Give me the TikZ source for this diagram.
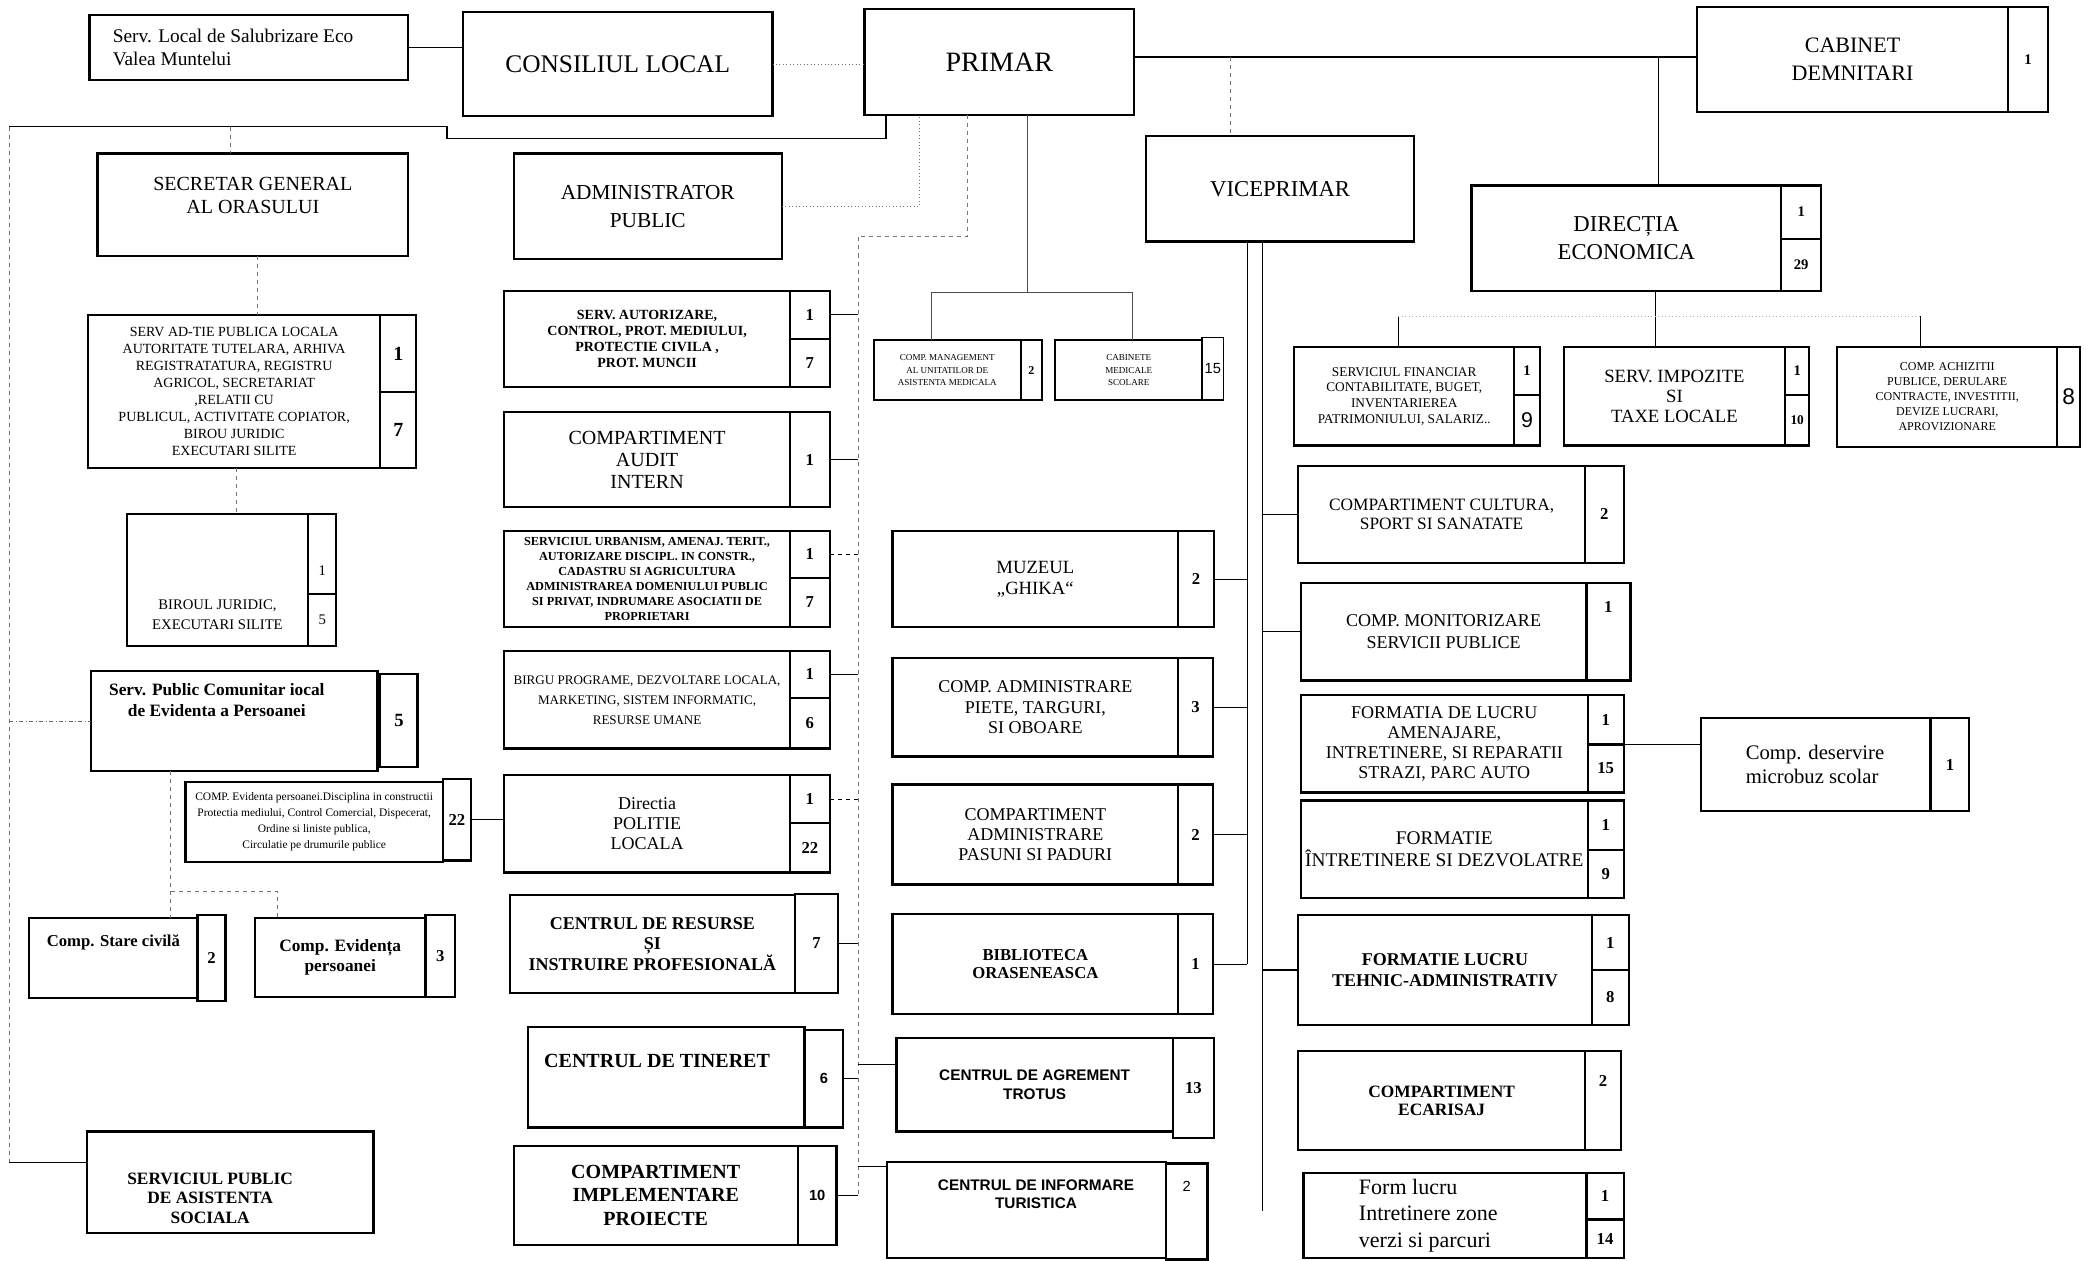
\documentclass[tikz,border=0pt]{standalone}
\usepackage{fontspec}
\setmainfont{Liberation Serif}
\newfontfamily\arialf{Liberation Sans}
\usetikzlibrary{positioning, calc}
\newcommand{\fsz}[2]{\fontsize{#1}{#2}\selectfont}
\tikzset{
  box/.style={draw, line width=1.7pt, anchor=north west, inner sep=1pt, outer sep=0pt, align=center},
  cnt/.style={draw, line width=1.7pt, anchor=north west, inner sep=0pt, outer sep=0pt, font=\bfseries\fsz{12.5}{14}},
  sz/.style 2 args={minimum width=#1pt, minimum height=#2pt},
  link/.style={line width=0.8pt},
  faint/.style={dashed, line width=0.5pt, black!55},
  dots/.style={dotted, line width=0.6pt, black!55}
}
\begin{document}
\begin{tikzpicture}[x=1pt, y=-1pt]
\fill[white] (0,0) rectangle (1568,945);
\useasboundingbox (0,0) rectangle (1568,945);

% top row
\node[box, sz={239}{49}] (salub) at (67,11) {};
\node[anchor=west, align=left, font=\fsz{14.5}{17}] (salub-t) at ([xshift=14pt]salub.west) {Serv. Local de Salubrizare Eco\\Valea Muntelui};
\node[box, sz={232}{78}, font=\fsz{19}{22}] (consiliu) at (347,9) {CONSILIUL LOCAL};
\node[box, sz={202}{79}, font=\fsz{21}{24}] (primar) at (648,7) {PRIMAR};
\node[box, sz={233}{79}, font=\fsz{16.5}{21}] (cabinet) at (1272,5) {CABINET\\DEMNITARI};
\node[cnt, sz={30}{79}, font=\bfseries\fsz{11}{13}] (cabinet-a) at (cabinet.north east) {1};

\node[box, sz={233}{77}] (secretar) at (73,115) {};
\node[font=\fsz{15}{17}, align=center] (secretar-t) at ([yshift=7pt]secretar.center) {SECRETAR GENERAL\\AL ORASULUI};
\node[box, sz={201}{79}, font=\fsz{16}{21}] (admin) at (385,115) {ADMINISTRATOR\\PUBLIC};
\node[box, sz={201}{79}, font=\fsz{17}{20}] (vice) at (859,102) {VICEPRIMAR};
\node[box, sz={232}{79}, font=\fsz{17}{21}] (directia) at (1103,139) {DIRECȚIA\\ECONOMICA};
\node[cnt, sz={30}{40}, font=\bfseries\fsz{11}{13}] (directia-a) at (directia.north east) {1};
\node[cnt, sz={30}{39}, font=\bfseries\fsz{11}{13}] (directia-b) at (directia-a.south west) {29};

% left column
\node[box, sz={219}{115}, font=\fsz{10.5}{12.7}] (adtie) at (66,236) {SERV AD-TIE PUBLICA LOCALA\\AUTORITATE TUTELARA, ARHIVA\\REGISTRATATURA, REGISTRU\\AGRICOL, SECRETARIAT\\,RELATII CU\\PUBLICUL, ACTIVITATE COPIATOR,\\BIROU JURIDIC\\EXECUTARI SILITE};
\node[cnt, sz={27}{58}, font=\bfseries\fsz{15}{17}] (adtie-a) at (adtie.north east) {1};
\node[cnt, sz={27}{57}, font=\bfseries\fsz{15}{17}] (adtie-b) at (adtie-a.south west) {7};
\node[box, sz={136}{99}] (birou) at (95,385) {};
\node[font=\fsz{11}{15}, align=center] (birou-t) at ([yshift=-26pt]birou.center) {BIROUL JURIDIC,\\EXECUTARI SILITE};
\node[cnt, sz={21}{60}, font=\fsz{11}{13}, text height=32pt] (birou-a) at (birou.north east) {1};
\node[cnt, sz={21}{39}, font=\fsz{11}{13}] (birou-b) at (birou-a.south west) {5};
\node[box, sz={215}{75}] (spc) at (68,503) {};
\node[font=\bfseries\fsz{13}{16}, align=center] (spc-t) at ([xshift=-13pt, yshift=16pt]spc.center) {Serv. Public Comunitar iocal\\de Evidenta a Persoanei};
\node[cnt, sz={28}{70}, font=\bfseries\fsz{14}{16}] (spc-a) at ([xshift=2pt, yshift=-2pt]spc.north east) {5};
\node[box, sz={193}{60}, font=\fsz{8.6}{12}] (compevid) at (139,586) {COMP. Evidenta persoanei.Disciplina in constructii\\Protectia mediului, Control Comercial, Dispecerat,\\Ordine si liniste publica,\\Circulatie pe drumurile publice};
\node[cnt, sz={21}{61}] (compevid-a) at ([yshift=2pt]compevid.north east) {22};
\node[box, sz={126}{60}] (stare) at (22,688) {};
\node[font=\bfseries\fsz{12.5}{15}] (stare-t) at ([yshift=12pt]stare.center) {Comp. Stare civilă};
\node[cnt, sz={21}{64}] (stare-a) at ([yshift=2pt]stare.north east) {2};
\node[box, sz={128}{59}, font=\bfseries\fsz{13}{15}] (evid) at (191,688) {Comp. Evidența\\persoanei};
\node[cnt, sz={22}{61}] (evid-a) at ([yshift=2pt]evid.north east) {3};
\node[box, sz={215}{76}] (asist) at (65,848) {};
\node[font=\bfseries\fsz{13}{14.5}, align=center] (asist-t) at ([xshift=-15pt, yshift=-12pt]asist.center) {SERVICIUL PUBLIC\\DE ASISTENTA\\SOCIALA};

% administrator column
\node[box, sz={214}{72}, font=\bfseries\fsz{10.5}{12}] (autoriz) at (378,218) {SERV. AUTORIZARE,\\CONTROL, PROT. MEDIULUI,\\PROTECTIE CIVILA ,\\PROT. MUNCII};
\node[cnt, sz={30}{36}] (autoriz-a) at (autoriz.north east) {1};
\node[cnt, sz={30}{36}] (autoriz-b) at (autoriz-a.south west) {7};
\node[box, sz={214}{71}, font=\fsz{15}{16.5}] (audit) at (378,309) {COMPARTIMENT\\AUDIT\\INTERN};
\node[cnt, sz={30}{71}] (audit-a) at (audit.north east) {1};
\node[box, sz={214}{72}, font=\bfseries\fsz{9.2}{11.3}] (urban) at (378,398) {SERVICIUL URBANISM, AMENAJ. TERIT.,\\AUTORIZARE DISCIPL. IN CONSTR.,\\CADASTRU SI AGRICULTURA\\ADMINISTRAREA DOMENIULUI PUBLIC\\SI PRIVAT, INDRUMARE ASOCIATII DE\\PROPRIETARI};
\node[cnt, sz={30}{35}] (urban-a) at (urban.north east) {1};
\node[cnt, sz={30}{37}] (urban-b) at (urban-a.south west) {7};
\node[box, sz={214}{73}, font=\fsz{9.8}{15}] (birgu) at (378,488) {BIRGU PROGRAME, DEZVOLTARE LOCALA,\\MARKETING, SISTEM INFORMATIC,\\RESURSE UMANE};
\node[cnt, sz={30}{35}] (birgu-a) at (birgu.north east) {1};
\node[cnt, sz={30}{38}] (birgu-b) at (birgu-a.south west) {6};
\node[box, sz={214}{73}, font=\fsz{13.5}{15}] (politie) at (378,581) {Directia\\POLITIE\\LOCALA};
\node[cnt, sz={30}{36}] (politie-a) at (politie.north east) {1};
\node[cnt, sz={30}{37}] (politie-b) at (politie-a.south west) {22};
\node[box, sz={214}{73}, font=\bfseries\fsz{13.5}{15.5}] (resurse) at (382,671) {CENTRUL DE RESURSE\\ȘI\\INSTRUIRE PROFESIONALĂ};
\node[cnt, sz={32}{74}] (resurse-a) at ([yshift=1pt]resurse.north east) {7};
\node[box, sz={207}{75}] (tineret) at (396,770) {};
\node[font=\bfseries\fsz{15}{17}] (tineret-t) at ([xshift=-7pt, yshift=12pt]tineret.center) {CENTRUL DE TINERET};
\node[cnt, sz={29}{73}, font=\arialf\bfseries\fsz{11}{13}] (tineret-a) at ([yshift=-2pt]tineret.north east) {6};
\node[box, sz={213}{74}, font=\bfseries\fsz{15}{17.5}] (implem) at (385,859) {COMPARTIMENT\\IMPLEMENTARE\\PROIECTE};
\node[cnt, sz={29}{74}, font=\arialf\bfseries\fsz{11}{13}] (implem-a) at (implem.north east) {10};

% middle column
\node[box, sz={110}{45}, line width=1.3pt, font=\fsz{6.8}{9.5}] (mgmt) at (655,255) {COMP. MANAGEMENT\\AL UNITATILOR DE\\ASISTENTA MEDICALA};
\node[cnt, sz={16}{45}, line width=1.3pt, font=\bfseries\fsz{9}{11}] (mgmt-a) at (mgmt.north east) {2};
\node[box, sz={110}{45}, line width=1.3pt, font=\fsz{6.8}{9.5}] (cabmed) at (791,255) {CABINETE\\MEDICALE\\SCOLARE};
\node[cnt, sz={16}{47}, line width=1.3pt, font=\arialf\fsz{11}{13}] (cabmed-a) at ([yshift=2pt]cabmed.north east) {15};
\node[box, sz={214}{72}, font=\fsz{14}{16}] (muzeu) at (669,398) {MUZEUL\\„GHIKA“};
\node[cnt, sz={27}{72}] (muzeu-a) at (muzeu.north east) {2};
\node[box, sz={214}{74}, font=\fsz{13.5}{15}] (piete) at (669,493) {COMP. ADMINISTRARE\\PIETE, TARGURI,\\SI OBOARE};
\node[cnt, sz={26}{74}] (piete-a) at (piete.north east) {3};
\node[box, sz={214}{75}, font=\fsz{13.5}{15}] (pasuni) at (669,588) {COMPARTIMENT\\ADMINISTRARE\\PASUNI SI PADURI};
\node[cnt, sz={26}{75}] (pasuni-a) at (pasuni.north east) {2};
\node[box, sz={214}{75}, font=\bfseries\fsz{12.5}{14}] (biblio) at (669,685) {BIBLIOTECA\\ORASENEASCA};
\node[cnt, sz={26}{75}] (biblio-a) at (biblio.north east) {1};
\node[box, sz={207}{70}, font=\arialf\bfseries\fsz{11.5}{14}] (agrement) at (672,778) {CENTRUL DE AGREMENT\\TROTUS};
\node[cnt, sz={31}{75}] (agrement-a) at (agrement.north east) {13};
\node[box, sz={209}{72}] (informare) at (665,871) {};
\node[font=\arialf\bfseries\fsz{11.5}{14}, align=center] (informare-t) at ([xshift=7pt, yshift=12pt]informare.center) {CENTRUL DE INFORMARE\\TURISTICA};
\node[cnt, sz={31}{72}, font=\arialf\fsz{11}{13}, text depth=38pt] (informare-a) at ([yshift=-1pt]informare.north east) {2};

% economic and right columns
\node[box, sz={165}{74}, font=\fsz{10}{11.8}] (financiar) at (970,260) {SERVICIUL FINANCIAR\\CONTABILITATE, BUGET,\\INVENTARIEREA\\PATRIMONIULUI, SALARIZ..};
\node[cnt, sz={19}{36}, font=\bfseries\fsz{11}{13}] (financiar-a) at (financiar.north east) {1};
\node[cnt, sz={19}{38}, font=\arialf\fsz{16}{18}] (financiar-b) at (financiar-a.south west) {9};
\node[box, sz={166}{74}, font=\fsz{14}{15}] (impozite) at (1172,260) {SERV. IMPOZITE\\SI\\TAXE LOCALE};
\node[cnt, sz={18}{36}, font=\bfseries\fsz{11}{13}] (impozite-a) at (impozite.north east) {1};
\node[cnt, sz={18}{38}, font=\bfseries\fsz{10}{12}] (impozite-b) at (impozite-a.south west) {10};
\node[box, sz={165}{75}, font=\fsz{9}{11.3}] (achiz) at (1377,260) {COMP. ACHIZITII\\PUBLICE, DERULARE\\CONTRACTE, INVESTITII,\\DEVIZE LUCRARI,\\APROVIZIONARE};
\node[cnt, sz={17}{75}, font=\arialf\fsz{17}{19}] (achiz-a) at (achiz.north east) {8};
\node[box, sz={215}{73}, font=\fsz{13}{14}] (cultura) at (973,349) {COMPARTIMENT CULTURA,\\SPORT SI SANATATE};
\node[cnt, sz={29}{73}] (cultura-a) at (cultura.north east) {2};
\node[box, sz={214}{73}, font=\fsz{13.5}{16}] (monit) at (975,437) {COMP. MONITORIZARE\\SERVICII PUBLICE};
\node[cnt, sz={33}{73}, text depth=37pt] (monit-a) at (monit.north east) {1};
\node[box, sz={215}{73}, font=\fsz{13.5}{15}] (formatia) at (975,521) {FORMATIA DE LUCRU\\AMENAJARE,\\INTRETINERE, SI REPARATII\\STRAZI, PARC AUTO};
\node[cnt, sz={27}{37}] (formatia-a) at (formatia.north east) {1};
\node[cnt, sz={27}{36}] (formatia-b) at (formatia-a.south west) {15};
\node[box, sz={172}{70}] (microbuz) at (1275,538) {};
\node[anchor=west, align=left, font=\fsz{15.5}{18}] (microbuz-t) at ([xshift=30pt]microbuz.west) {Comp. deservire\\microbuz scolar};
\node[cnt, sz={29}{70}] (microbuz-a) at (microbuz.north east) {1};
\node[box, sz={215}{73}, font=\fsz{14.5}{16}] (formint) at (975,600) {FORMATIE\\ÎNTRETINERE SI DEZVOLATRE};
\node[cnt, sz={27}{37}] (formint-a) at (formint.north east) {1};
\node[cnt, sz={27}{36}] (formint-b) at (formint-a.south west) {9};
\node[box, sz={220}{82}, font=\bfseries\fsz{13.5}{16}] (tehnic) at (973,686) {FORMATIE LUCRU\\TEHNIC-ADMINISTRATIV};
\node[cnt, sz={28}{41}] (tehnic-a) at (tehnic.north east) {1};
\node[cnt, sz={28}{41}] (tehnic-b) at (tehnic-a.south west) {8};
\node[box, sz={215}{74}, font=\bfseries\fsz{13}{14}] (ecaris) at (973,788) {COMPARTIMENT\\ECARISAJ};
\node[cnt, sz={27}{74}, text depth=30pt] (ecaris-a) at (ecaris.north east) {2};
\node[box, sz={212}{64}] (form) at (977,879) {};
\node[anchor=west, align=left, font=\fsz{16.5}{20}] (form-t) at ([xshift=38pt]form.west) {Form lucru\\Intretinere zone\\verzi si parcuri};
\node[cnt, sz={28}{35}] (form-a) at (form.north east) {1};
\node[cnt, sz={28}{29}] (form-b) at (form-a.south west) {14};

% connectors, top
\draw[link] (salub.east) -- (salub.east -| consiliu.west);
\draw[dots] (consiliu.east) -- (consiliu.east -| primar.west);
\coordinate (pl) at ([yshift=4pt]primar.east);
\draw[line width=1.2pt] (pl) -- (pl -| cabinet.west);
\coordinate (v0) at ([xshift=63pt]vice.north west);
\draw[faint] (v0 |- pl) -- (v0);
\coordinate (d0) at ([xshift=140pt]directia.north west);
\draw[thin] (d0 |- pl) -- (d0);

% left frame
\coordinate (fr-a) at ([xshift=16pt]primar.south west);
\coordinate (fr-b) at (335,104);
\coordinate (fr-c) at (7,95);
\coordinate (fr-d) at (7,871);
\draw[line width=1.1pt] (fr-a) |- (fr-b) |- (fr-c);
\draw[faint] (fr-c) -- (fr-d);
\draw[link] (fr-d) -- (fr-d -| asist.west);
\draw[faint] ([xshift=-17pt]secretar.north |- fr-c) -- ([xshift=-17pt]secretar.north);
\draw[faint] ([xshift=3pt]secretar.south) -- ([xshift=3pt]secretar.south |- adtie.north);
\draw[faint] ([xshift=2pt]adtie.south) -- ([xshift=2pt]adtie.south |- birou.north);
\draw[dash dot, thin, black!60] (spc.west -| fr-c) -- (spc.west);
\coordinate (s1) at ([xshift=60pt]spc.south west);
\coordinate (s2) at ([xshift=17pt]evid.north west);
\coordinate (s3) at (0,668);
\draw[faint] (s1) -- (s1 |- stare.north);
\draw[faint] (s1 |- s3) -| (s2);
\draw[link] (compevid-a.east) -- (compevid-a.east -| politie.west);

% administrator trunk
\coordinate (t2) at (643,177);
\coordinate (t2-end) at (643,896);
\coordinate (p2) at ([xshift=77pt]primar.south west);
\draw[faint] (p2) |- (t2) -- (t2-end);
\foreach \nm in {autoriz-a, audit-a, birgu-a, resurse-a, tineret-a, implem-a}
  \draw[link] (\nm.east) -- (\nm.east -| t2);
\foreach \nm in {urban-a, politie-a}
  \draw[link, dashed] (\nm.east) -- (\nm.east -| t2);
\coordinate (ag) at ([yshift=15pt]agrement.west);
\coordinate (inf) at ([yshift=33pt]informare.west);
\draw[link] (ag -| t2) -- (ag);
\draw[link] (inf -| t2) -- (inf);
\coordinate (p3) at ([xshift=41pt]primar.south west);
\draw[dots] (admin.east) -| (p3);

% medical bracket
\coordinate (p4) at ([xshift=122pt]primar.south west);
\coordinate (mb) at (770,219);
\coordinate (m1) at ([xshift=43pt]mgmt.north west);
\coordinate (m2) at ([xshift=58pt]cabmed.north west);
\draw[thin, black!70] (p4) -- (mb);
\draw[thin, black!70] (m1) |- (mb) -| (m2);

% viceprimar lines
\coordinate (v1) at ([xshift=76pt]vice.south west);
\coordinate (v2) at ([xshift=87pt]vice.south west);
\coordinate (v2-end) at (946,908);
\draw[thin] (v1) -- (v1 |- biblio-a.east);
\foreach \nm in {muzeu-a, piete-a, pasuni-a, biblio-a}
  \draw[thin] (\nm.east) -- (\nm.east -| v1);
\draw[thin] (v2) -- (v2-end);
\foreach \nm in {cultura, monit, tehnic}
  \draw[link] (\nm.west -| v2) -- (\nm.west);

% economic branches
\coordinate (d1) at ([xshift=138pt]directia.south west);
\coordinate (e1) at ([xshift=78pt]financiar.north west);
\coordinate (e2) at ([xshift=62pt]achiz.north west);
\draw[thin] (d1) -- (d1 |- impozite.north);
\draw[thin] (e1) -- ++(0,-23);
\draw[thin] (e2) -- ++(0,-23);
\draw[dots, black!30] ([yshift=23pt]e1) -- ([yshift=23pt]e2);
\draw[link] (formatia-b.north east) -- (formatia-b.north east -| microbuz.west);
\end{tikzpicture}
\end{document}
